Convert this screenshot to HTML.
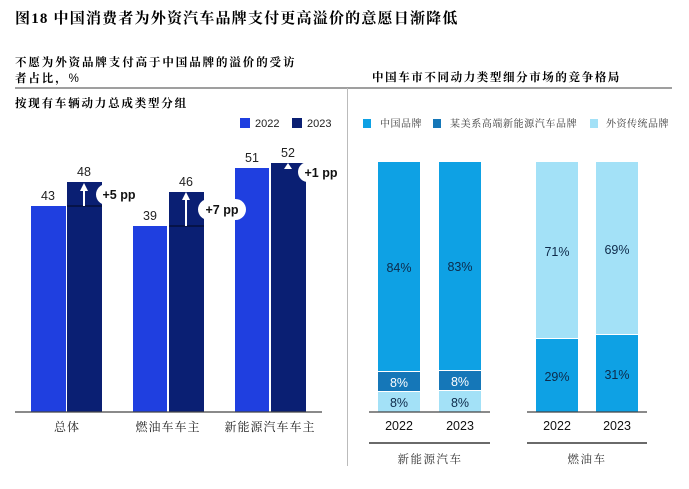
<!DOCTYPE html>
<html><head><meta charset="utf-8"><style>
body{margin:0;background:#fff;}
svg{display:block;}
.cj{font-family:"Liberation Serif","Noto Serif CJK SC",serif;}
.s{font-family:"Liberation Sans",Arial,sans-serif;}
</style></head><body>
<svg width="689" height="489" viewBox="0 0 689 489" xmlns="http://www.w3.org/2000/svg">
<text x="15" y="23" class="cj" font-size="15" font-weight="bold" fill="#000" letter-spacing="1.2">图18 中国消费者为外资汽车品牌支付更高溢价的意愿日渐降低</text>
<text x="15" y="66" class="cj" font-size="11.5" font-weight="bold" fill="#000" letter-spacing="1.9">不愿为外资品牌支付高于中国品牌的溢价的受访</text>
<text x="15" y="82" class="cj" font-size="11.5" font-weight="bold" fill="#000" letter-spacing="1.9">者占比，<tspan class="s" font-weight="normal">%</tspan></text>
<text x="372" y="81" class="cj" font-size="11.5" font-weight="bold" fill="#000" letter-spacing="1.6">中国车市不同动力类型细分市场的竞争格局</text>
<line x1="15" y1="88" x2="672" y2="88" stroke="#666" stroke-width="1.3"/>
<line x1="347.5" y1="88" x2="347.5" y2="466" stroke="#bbb" stroke-width="1"/>
<text x="15" y="107" class="cj" font-size="11.5" font-weight="bold" fill="#000" letter-spacing="1.8">按现有车辆动力总成类型分组</text>
<rect x="240" y="118" width="10" height="10" fill="#1f3fe0"/>
<text x="255" y="127" class="s" font-size="11" fill="#222">2022</text>
<rect x="292" y="118" width="10" height="10" fill="#0a1f73"/>
<text x="307" y="127" class="s" font-size="11" fill="#222">2023</text>
<rect x="31" y="206" width="35" height="206" fill="#1f3fe0"/>
<rect x="67" y="182" width="35" height="230" fill="#0a1f73"/>
<rect x="133" y="226" width="34" height="186" fill="#1f3fe0"/>
<rect x="169" y="192" width="35" height="220" fill="#0a1f73"/>
<rect x="235" y="168" width="34" height="244" fill="#1f3fe0"/>
<rect x="271" y="163" width="35" height="249" fill="#0a1f73"/>
<line x1="67" y1="206" x2="102" y2="206" stroke="#000" stroke-width="0.8"/>
<line x1="169" y1="226" x2="204" y2="226" stroke="#000" stroke-width="0.8"/>
<line x1="15" y1="412" x2="322" y2="412" stroke="#444" stroke-width="1.2"/>
<g class="s" font-size="12.5" fill="#222" text-anchor="middle">
<text x="48" y="200">43</text><text x="84" y="176">48</text>
<text x="150" y="220">39</text><text x="186" y="186">46</text>
<text x="252" y="162">51</text><text x="288" y="157">52</text>
</g>
<g fill="#fff" stroke="#fff">
<line x1="84" y1="206" x2="84" y2="190" stroke-width="2"/><polygon points="80,191 88,191 84,183" stroke="none"/>
<line x1="186" y1="226" x2="186" y2="200" stroke-width="2"/><polygon points="182,200 190,200 186,192" stroke="none"/>
<polygon points="284,169 292,169 288,163" stroke="none"/>
</g>
<rect x="96" y="184" width="46" height="21" rx="10.5" fill="#fff"/>
<rect x="198" y="199" width="48" height="21" rx="10.5" fill="#fff"/>
<rect x="298" y="162" width="44" height="20" rx="10" fill="#fff"/>
<g class="s" font-size="12.5" font-weight="bold" fill="#111" text-anchor="middle">
<text x="119" y="199">+5 pp</text><text x="222" y="214">+7 pp</text><text x="321" y="177">+1 pp</text>
</g>
<g class="cj" font-size="12" fill="#222" text-anchor="middle" letter-spacing="1">
<text x="67" y="431">总体</text><text x="168" y="431">燃油车车主</text><text x="270" y="431">新能源汽车车主</text>
</g>
<rect x="363" y="119" width="8" height="9" fill="#0ea1e4"/>
<text x="380" y="127" class="cj" font-size="10" fill="#333" letter-spacing="0.5">中国品牌</text>
<rect x="433" y="119" width="8" height="9" fill="#1577b8"/>
<text x="450" y="127" class="cj" font-size="10" fill="#333" letter-spacing="0.6">某美系高端新能源汽车品牌</text>
<rect x="590" y="119" width="8" height="9" fill="#a3e1f7"/>
<text x="606" y="127" class="cj" font-size="10" fill="#333" letter-spacing="0.5">外资传统品牌</text>
<rect x="378" y="162" width="42" height="209" fill="#0ea1e4"/>
<rect x="378" y="372" width="42" height="19" fill="#1577b8"/>
<rect x="378" y="392" width="42" height="20" fill="#a3e1f7"/>
<rect x="439" y="162" width="42" height="208" fill="#0ea1e4"/>
<rect x="439" y="371" width="42" height="19" fill="#1577b8"/>
<rect x="439" y="391" width="42" height="21" fill="#a3e1f7"/>
<rect x="536" y="162" width="42" height="176" fill="#a3e1f7"/>
<rect x="536" y="339" width="42" height="73" fill="#0ea1e4"/>
<rect x="596" y="162" width="42" height="172" fill="#a3e1f7"/>
<rect x="596" y="335" width="42" height="77" fill="#0ea1e4"/>
<g class="s" font-size="12.5" text-anchor="middle">
<text x="399" y="272" fill="#0d2a4a">84%</text><text x="460" y="271" fill="#0d2a4a">83%</text>
<text x="399" y="387" fill="#fff">8%</text><text x="460" y="386" fill="#fff">8%</text>
<text x="399" y="407" fill="#0d2a4a">8%</text><text x="460" y="407" fill="#0d2a4a">8%</text>
<text x="557" y="256" fill="#0d2a4a">71%</text><text x="617" y="254" fill="#0d2a4a">69%</text>
<text x="557" y="381" fill="#0d2a4a">29%</text><text x="617" y="379" fill="#0d2a4a">31%</text>
</g>
<line x1="369" y1="412" x2="490" y2="412" stroke="#444" stroke-width="1.2"/>
<line x1="527" y1="412" x2="647" y2="412" stroke="#444" stroke-width="1.2"/>
<g class="s" font-size="12.5" fill="#111" text-anchor="middle">
<text x="399" y="430">2022</text><text x="460" y="430">2023</text>
<text x="557" y="430">2022</text><text x="617" y="430">2023</text>
</g>
<line x1="369" y1="443" x2="490" y2="443" stroke="#111" stroke-width="1.2"/>
<line x1="527" y1="443" x2="647" y2="443" stroke="#111" stroke-width="1.2"/>
<g class="cj" font-size="11.5" fill="#333" text-anchor="middle" letter-spacing="1.5">
<text x="430" y="463">新能源汽车</text><text x="587" y="463">燃油车</text>
</g>
</svg>
</body></html>
